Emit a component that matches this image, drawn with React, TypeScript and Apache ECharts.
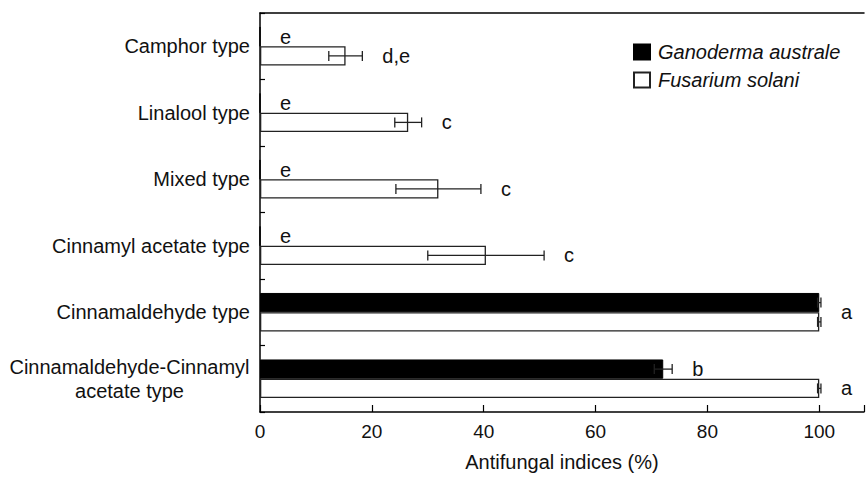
import React, { useEffect, useRef } from "react";
import * as echarts from "echarts";

const categories = [
  "Camphor type",
  "Linalool type",
  "Mixed type",
  "Cinnamyl acetate type",
  "Cinnamaldehyde type",
  "Cinnamaldehyde-Cinnamyl\nacetate type",
];
const seriesNames = ["Ganoderma australe", "Fusarium solani"];
const ganodermaMean = [0, 0, 0, 0, 100, 72.1];
const ganodermaErr = [0, 0, 0, 0, 0.3, 1.6];
const fusariumMean = [15.3, 26.5, 31.9, 40.4, 100, 100];
const fusariumErr = [3.0, 2.4, 7.6, 10.4, 0.3, 0.3];
const ganodermaLetters = ["e", "e", "e", "e", "", "b"];
const fusariumLetters = ["d,e", "c", "c", "c", "", "a"];
const sharedLetters = ["", "", "", "", "a", ""];
const xMin = 0;
const xMax = 108;
const xInterval = 20;
const xLabelMax = 100;
const xAxisName = "Antifungal indices (%)";

const FONT = "'Liberation Sans', Arial, Helvetica, sans-serif";
const CAT_GAP = 0.42;

export default function App() {
  const ref = useRef<HTMLDivElement>(null);
  useEffect(() => {
    if (!ref.current) return;
    const chart = echarts.init(ref.current, undefined, { renderer: "svg" });

    const means = [ganodermaMean, fusariumMean];
    const errs = [ganodermaErr, fusariumErr];
    const errData: number[][] = [];
    means.forEach((m, s) =>
      m.forEach((v, i) => {
        if (errs[s][i] > 0) errData.push([v, i, errs[s][i], s]);
      })
    );
    const letterItems: { x: number; i: number; slot: number; text: string }[] = [];
    [ganodermaLetters, fusariumLetters].forEach((arr, s) =>
      arr.forEach((t, i) => {
        if (t) letterItems.push({ x: means[s][i] + errs[s][i], i, slot: s, text: t });
      })
    );
    sharedLetters.forEach((t, i) => {
      if (t)
        letterItems.push({
          x: Math.max(ganodermaMean[i] + ganodermaErr[i], fusariumMean[i] + fusariumErr[i]),
          i,
          slot: 2,
          text: t,
        });
    });
    const letterData = letterItems.map((d, k) => [d.x, d.i, d.slot, k]);

    const slotOffset = (slot: number, band: number) => {
      const bw = (band * (1 - CAT_GAP)) / 2;
      if (slot === 2) return 0;
      return slot === 0 ? -bw / 2 : bw / 2;
    };

    chart.setOption({
      animation: false,
      grid: { left: 260, top: 13, right: 0, bottom: 59, containLabel: false },
      legend: {
        orient: "vertical",
        left: 628,
        top: 37,
        itemWidth: 16,
        itemHeight: 15,
        itemGap: 8,
        icon: "rect",
        textStyle: {
          fontFamily: FONT,
          fontSize: 20,
          fontStyle: "italic",
          color: "#111",
          lineHeight: 20,
          padding: [0, 0, 0, 3],
        },
        data: seriesNames,
      },
      xAxis: [
        {
          type: "value",
          min: xMin,
          max: xMax,
          interval: xInterval,
          position: "bottom",
          name: xAxisName,
          nameLocation: "middle",
          nameGap: 40,
          nameTextStyle: { fontFamily: FONT, fontSize: 20, color: "#111" },
          axisLine: { show: true, lineStyle: { color: "#000", width: 1.5 } },
          axisTick: { show: true, inside: true, length: 7, lineStyle: { color: "#000", width: 1.2 } },
          axisLabel: {
            fontFamily: FONT,
            fontSize: 19,
            color: "#111",
            margin: 10,
            formatter: (v: number) => (v <= xLabelMax ? String(v) : ""),
          },
          splitLine: { show: false },
        },
        {
          type: "value",
          min: xMin,
          max: xMax,
          interval: xInterval,
          position: "top",
          axisLine: { show: true, lineStyle: { color: "#000", width: 1.5 } },
          axisTick: { show: false },
          axisLabel: { show: false },
          splitLine: { show: false },
        },
      ],
      yAxis: {
        type: "category",
        data: categories,
        inverse: true,
        axisLine: { show: true, lineStyle: { color: "#000", width: 1.5 } },
        axisTick: { show: true, inside: true, length: 5, lineStyle: { color: "#000", width: 1.2 } },
        axisLabel: {
          fontFamily: FONT,
          fontSize: 20,
          color: "#111",
          margin: 10,
          lineHeight: 24,
          formatter: (v: string) =>
            v.includes("\n")
              ? v
                  .split("\n")
                  .map((l) => `{c|${l}}`)
                  .join("\n")
              : v,
          rich: {
            c: { width: 241, align: "center", fontFamily: FONT, fontSize: 20, lineHeight: 24, color: "#111" },
          },
        },
      },
      series: [
        {
          name: seriesNames[0],
          type: "bar",
          data: ganodermaMean,
          barGap: "0%",
          barCategoryGap: `${CAT_GAP * 100}%`,
          itemStyle: { color: "#000", borderColor: "#000", borderWidth: 1 },
        },
        {
          name: seriesNames[1],
          type: "bar",
          data: fusariumMean,
          barGap: "0%",
          barCategoryGap: `${CAT_GAP * 100}%`,
          itemStyle: { color: "#fff", borderColor: "#222", borderWidth: 1.3 },
        },
        {
          type: "custom",
          data: errData,
          clip: false,
          z: 5,
          renderItem: (params: any, api: any) => {
            const mean = api.value(0);
            const idx = api.value(1);
            const err = api.value(2);
            const s = api.value(3);
            const band = api.size([0, 1])[1];
            const cy = api.coord([mean, idx])[1] + slotOffset(s, band);
            const x1 = api.coord([mean - err, idx])[0];
            const x2 = api.coord([mean + err, idx])[0];
            const h = 5;
            const st = { stroke: "#222", lineWidth: 1.3 };
            return {
              type: "group",
              children: [
                { type: "line", shape: { x1, y1: cy, x2, y2: cy }, style: st },
                { type: "line", shape: { x1, y1: cy - h, x2: x1, y2: cy + h }, style: st },
                { type: "line", shape: { x1: x2, y1: cy - h, x2, y2: cy + h }, style: st },
              ],
            };
          },
        },
        {
          type: "custom",
          data: letterData,
          clip: false,
          z: 6,
          renderItem: (params: any, api: any) => {
            const xv = api.value(0);
            const idx = api.value(1);
            const slot = api.value(2);
            const item = letterItems[api.value(3)];
            const band = api.size([0, 1])[1];
            const p = api.coord([xv, idx]);
            return {
              type: "text",
              x: p[0] + 20,
              y: p[1] + slotOffset(slot, band),
              style: {
                text: item.text,
                fontFamily: FONT,
                fontSize: 20,
                fill: "#111",
                align: "left",
                verticalAlign: "middle",
              },
            };
          },
        },
      ],
    });
    return () => chart.dispose();
  }, []);
  return (
    <div
      ref={ref}
      style={{ position: "absolute", left: 0, top: 0, width: 867, height: 477, background: "#fff" }}
    />
  );
}
